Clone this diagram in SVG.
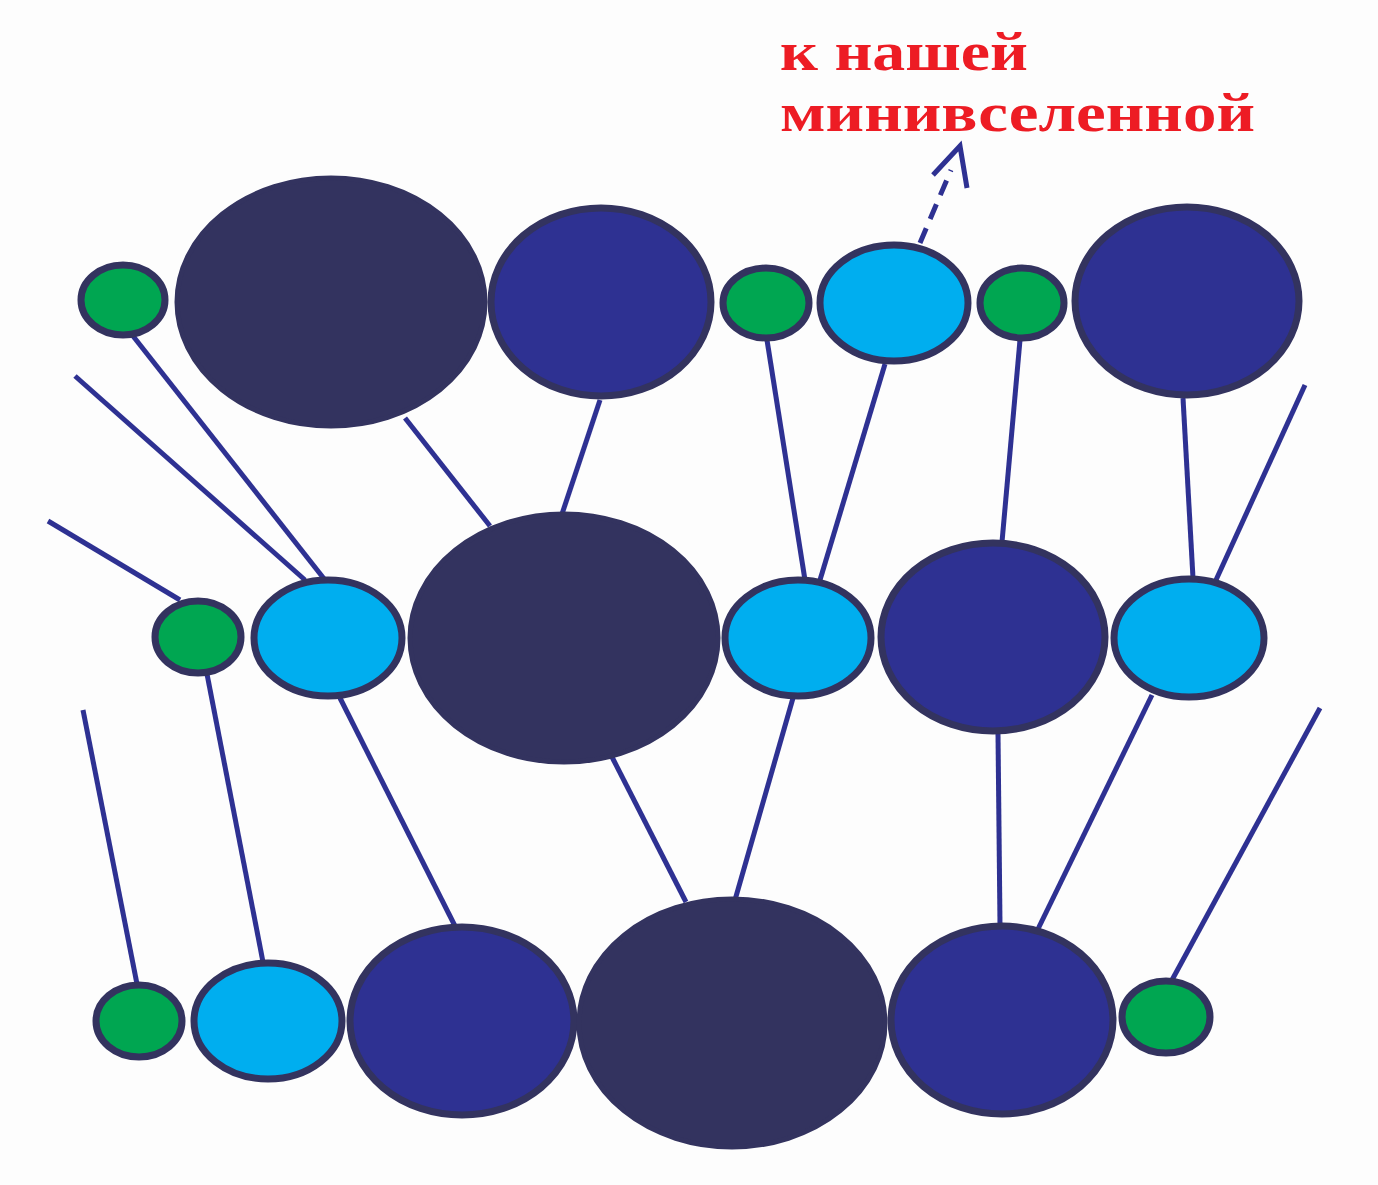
<svg xmlns="http://www.w3.org/2000/svg" width="1378" height="1185" viewBox="0 0 1378 1185">
  <defs>
    <style>
      .dark { fill: #33335f; stroke: #33335f; stroke-width: 5; }
      .blue { fill: #2e3192; stroke: #33335f; stroke-width: 7; }
      .cyan { fill: #00aeef; stroke: #33335f; stroke-width: 7; }
      .green { fill: #00a651; stroke: #33335f; stroke-width: 7; }
      .link { stroke: #2e3192; stroke-width: 5; fill: none; }
      .label { font-family: "Liberation Serif", "Times New Roman", serif; font-weight: bold; font-size: 55px; fill: #ed1c24; }
    </style>
  </defs>
  <rect width="1378" height="1185" fill="#fdfdfd"/>

  <!-- connectors between rows -->
  <g id="connectors">
    <line class="link" x1="75" y1="376" x2="305" y2="580"/>
    <line class="link" x1="133" y1="336" x2="325" y2="580"/>
    <line class="link" x1="48" y1="521" x2="180" y2="600"/>
    <line class="link" x1="405" y1="418" x2="490" y2="526"/>
    <line class="link" x1="600" y1="400" x2="562" y2="514"/>
    <line class="link" x1="767" y1="340" x2="805" y2="580"/>
    <line class="link" x1="885" y1="364" x2="820" y2="580"/>
    <line class="link" x1="1020" y1="340" x2="1002" y2="542"/>
    <line class="link" x1="1183" y1="398" x2="1193" y2="578"/>
    <line class="link" x1="1305" y1="385" x2="1216" y2="580"/>
    <line class="link" x1="83" y1="710" x2="137" y2="984"/>
    <line class="link" x1="207" y1="674" x2="263" y2="962"/>
    <line class="link" x1="340" y1="698" x2="455" y2="926"/>
    <line class="link" x1="612" y1="757" x2="686" y2="902"/>
    <line class="link" x1="793" y1="698" x2="735" y2="900"/>
    <line class="link" x1="998" y1="733" x2="1000" y2="924"/>
    <line class="link" x1="1152" y1="695" x2="1038" y2="929"/>
    <line class="link" x1="1320" y1="708" x2="1172" y2="980"/>
    <!-- dashed pointer toward the caption -->
    <line x1="920" y1="243" x2="951" y2="170" stroke="#2e3192" stroke-width="5" stroke-dasharray="16 10"/>
    <path d="M933,175 L960,146 L967,188" fill="none" stroke="#2e3192" stroke-width="5"/>
  </g>

  <!-- top row -->
  <g id="t-green1"><ellipse class="green" cx="123" cy="300" rx="42" ry="35"/></g>
  <g id="t-dark1"><ellipse class="dark" cx="331" cy="302" rx="154" ry="124"/></g>
  <g id="t-blue1"><ellipse class="blue" cx="601" cy="302" rx="110" ry="94"/></g>
  <g id="t-green2"><ellipse class="green" cx="766" cy="303" rx="43" ry="35"/></g>
  <g id="t-cyan1"><ellipse class="cyan" cx="894" cy="303" rx="74" ry="58"/></g>
  <g id="t-green3"><ellipse class="green" cx="1022" cy="303" rx="42" ry="35"/></g>
  <g id="t-blue2"><ellipse class="blue" cx="1187" cy="301" rx="112" ry="94"/></g>

  <!-- middle row -->
  <g id="m-green1"><ellipse class="green" cx="198" cy="637" rx="43" ry="36"/></g>
  <g id="m-cyan1"><ellipse class="cyan" cx="328" cy="638" rx="74" ry="58"/></g>
  <g id="m-dark1"><ellipse class="dark" cx="564" cy="638" rx="154" ry="124"/></g>
  <g id="m-cyan2"><ellipse class="cyan" cx="798" cy="638" rx="73" ry="58"/></g>
  <g id="m-blue1"><ellipse class="blue" cx="993" cy="637" rx="112" ry="94"/></g>
  <g id="m-cyan3"><ellipse class="cyan" cx="1189" cy="638" rx="75" ry="59"/></g>

  <!-- bottom row -->
  <g id="b-green1"><ellipse class="green" cx="139" cy="1021" rx="43" ry="36"/></g>
  <g id="b-cyan1"><ellipse class="cyan" cx="268" cy="1021" rx="74" ry="58"/></g>
  <g id="b-blue1"><ellipse class="blue" cx="462" cy="1021" rx="112" ry="94"/></g>
  <g id="b-dark1"><ellipse class="dark" cx="732" cy="1023" rx="153" ry="124"/></g>
  <g id="b-blue2"><ellipse class="blue" cx="1002" cy="1020" rx="111" ry="94"/></g>
  <g id="b-green2"><ellipse class="green" cx="1166" cy="1017" rx="44" ry="36"/></g>

  <!-- caption -->
  <g id="caption">
    <text class="label" x="780" y="70" textLength="248" lengthAdjust="spacingAndGlyphs">к нашей</text>
    <text class="label" x="780" y="131" textLength="475" lengthAdjust="spacingAndGlyphs">минивселенной</text>
  </g>
</svg>
